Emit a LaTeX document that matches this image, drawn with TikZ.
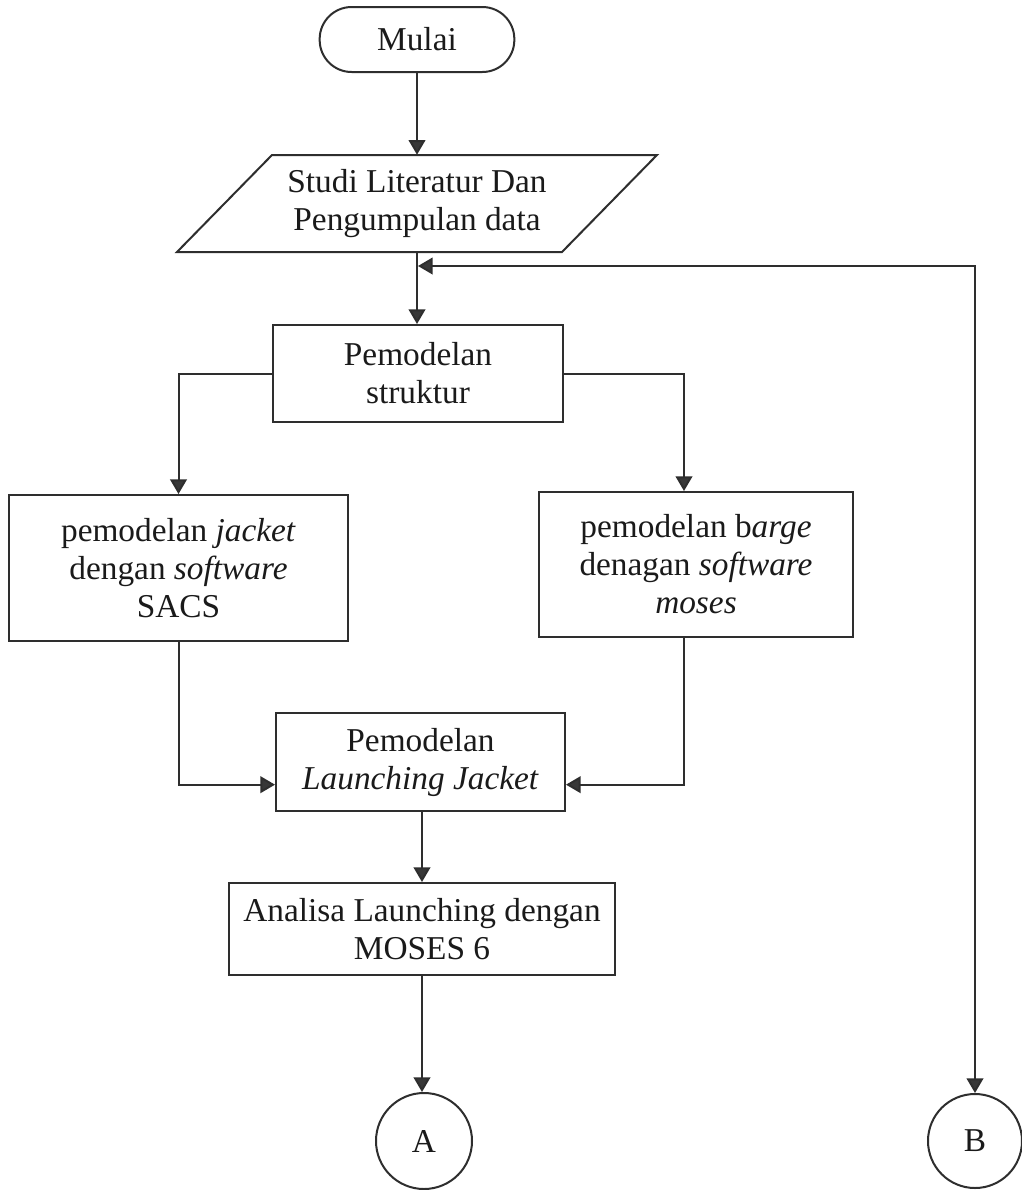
\documentclass[tikz,border=0pt]{standalone}
\usepackage{fontspec}
\setmainfont{Liberation Serif}
\usetikzlibrary{arrows.meta,calc}
\definecolor{ln}{HTML}{2E2E2E}
\definecolor{txt}{HTML}{1A1A1A}
\definecolor{tip}{HTML}{383838}
\begin{document}
\begin{tikzpicture}[x=0.75pt,y=-0.75pt,
  every node/.style={font=\fontsize{25}{28.5}\selectfont, text=txt, align=center, inner sep=0pt},
  proc/.style={draw=ln, line width=1.5pt, rectangle},
  term/.style={draw=ln, line width=1.5pt, rectangle, rounded corners=24pt},
  conn/.style={draw=ln, line width=1.5pt, circle},
  outline/.style={draw=ln, line width=1.5pt},
  arr/.style={draw=ln, line width=1.5pt, -{Triangle[length=11pt,width=12.5pt,fill=tip]}},
  arrboth/.style={draw=ln, line width=1.5pt, {Triangle[length=11pt,width=12.5pt,fill=tip]}-{Triangle[length=11pt,width=12.5pt,fill=tip]}}]
\fill[white] (0,0) rectangle (1022,1190);
\useasboundingbox (0,0) rectangle (1022,1190);

\node[term, minimum width=146pt, minimum height=48.75pt] (mulai) at (417,39.5) {Mulai};
\draw[outline] (272,155) -- (657,155) -- (562,252) -- (177,252) -- cycle;
\node[minimum width=200pt, minimum height=72.75pt] (studi) at (417,203.5) {Studi Literatur Dan\\Pengumpulan data};
\node[proc, minimum width=217.5pt, minimum height=72.75pt] (pem) at (418,373.5) {Pemodelan\\struktur};
\node[proc, minimum width=254.25pt, minimum height=109.5pt] (jacket) at (178.5,568) {pemodelan \textit{jacket}\\dengan \textit{software}\\SACS};
\node[proc, minimum width=235.5pt, minimum height=108.75pt] (barge) at (696,564.5) {pemodelan b\textit{arge}\\denagan \textit{software}\\\textit{moses}};
\node[proc, minimum width=216.75pt, minimum height=73.5pt] (launch) at (420.5,762) {Pemodelan\\\textit{Launching Jacket}};
\node[proc, minimum width=289.5pt, minimum height=69pt] (analisa) at (422,929) {Analisa Launching dengan\\MOSES 6};
\node[conn, minimum size=72pt] (A) at (424,1141) {A};
\node[conn, minimum size=70.5pt] (B) at (975,1141) {B};

\coordinate (J) at (418,266);
\coordinate (C) at (975,266);

\draw[arr] (mulai.south -| studi.north) -- (studi.north);
\draw[arr] (studi.south) -- (studi.south |- pem.north);
\draw[arrboth] (J) -- (C) -- (B.north);
\draw[arr] (pem.west) -| (jacket.north);
\draw[arr] (pem.east) -| ([xshift=-9pt]barge.north);
\draw[arr] (jacket.south) |- ([yshift=-17pt]launch.west);
\draw[arr] ([xshift=-9pt]barge.south) |- ([yshift=-17pt]launch.east);
\draw[arr] (launch.south -| analisa.north) -- (analisa.north);
\draw[arr] (analisa.south) -- (analisa.south |- A.north);
\end{tikzpicture}
\end{document}
